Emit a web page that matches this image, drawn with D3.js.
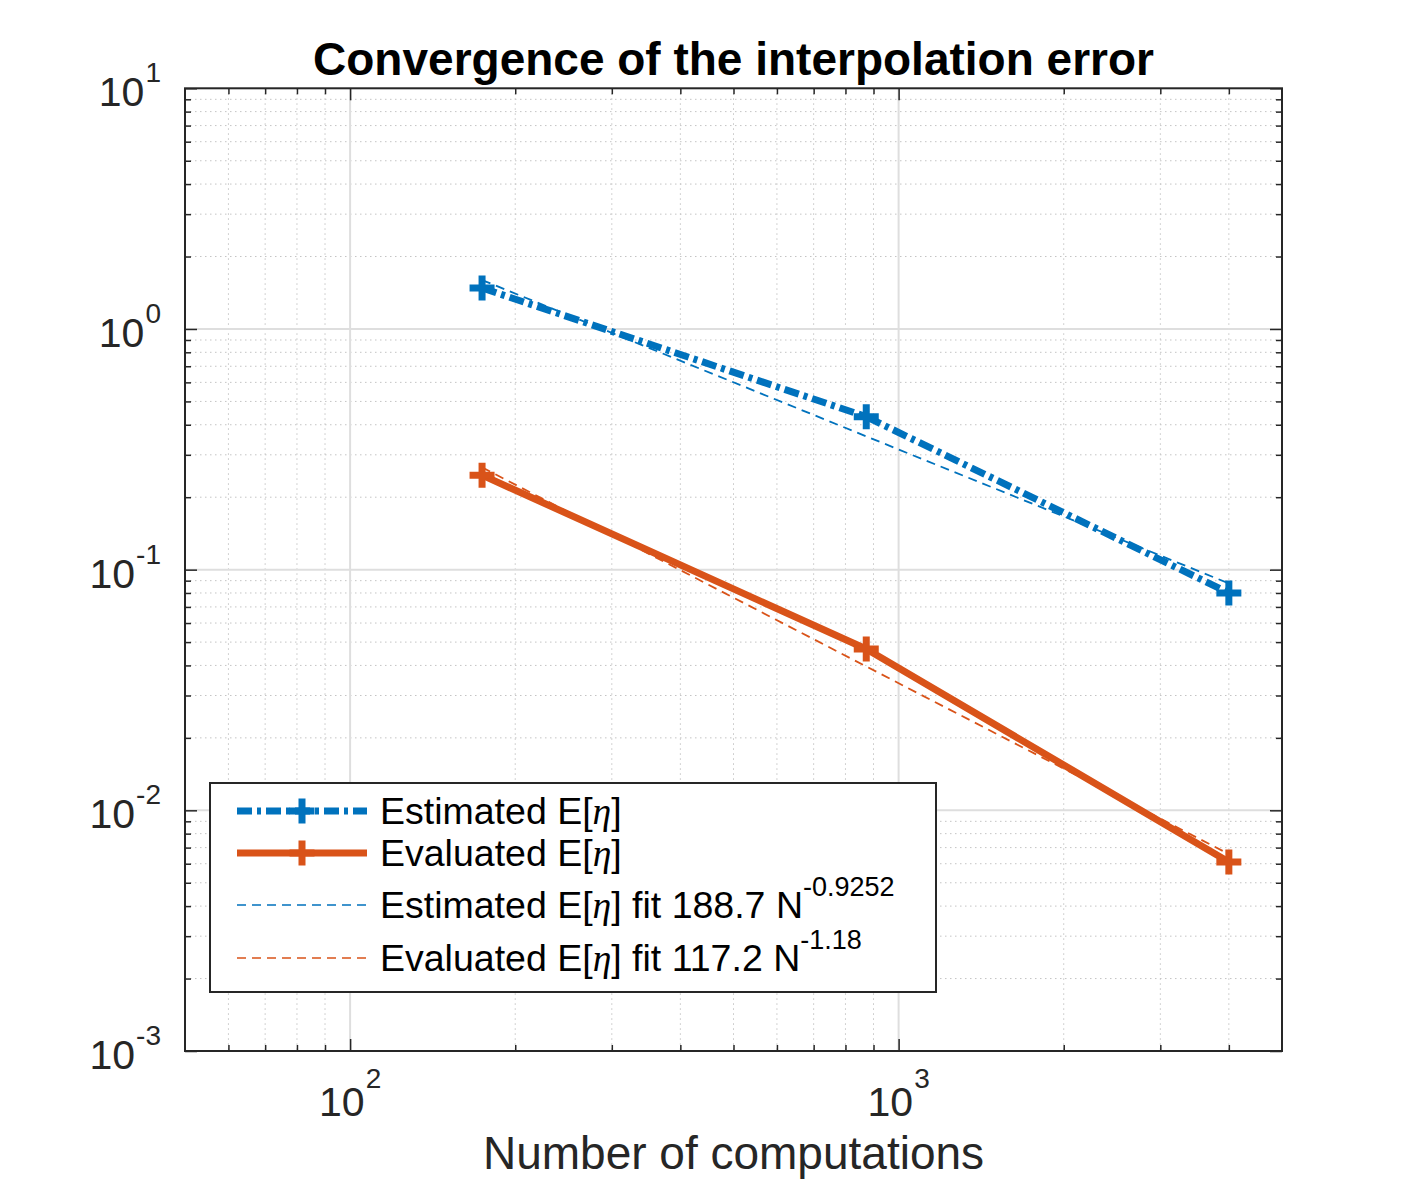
<!DOCTYPE html>
<html><head><meta charset="utf-8">
<script src="https://cdn.jsdelivr.net/npm/d3@7"></script>
<style>body{margin:0;background:#fff}</style>
</head><body>
<svg id="c" width="1417" height="1181"></svg>
<script>
// ---- data ----
const xValues = [174, 873, 4000];
const estimatedValues = [1.48, 0.432, 0.0800];
const evaluatedValues = [0.247, 0.0468, 0.00610];
const estimatedFitValues = [1.597, 0.358, 0.0877];
const evaluatedFitValues = [0.266, 0.0396, 0.00658];
const xTickExponents = [2, 3];
const yTickExponents = [1, 0, -1, -2, -3];
const legendLabels = ["Estimated E[", "Evaluated E[", "Estimated E[", "Evaluated E["];
const fitCoefficients = ["188.7", "117.2"];
const fitExponents = ["-0.9252", "-1.18"];
const titleText = "Convergence of the interpolation error";
const xLabelText = "Number of computations";

// ---- layout ----
const L = 185, R = 1282, T = 88.3, B = 1051;
const BLUE = "#0072BD", ORANGE = "#D95319", AX = "#262626";
const svg = d3.select("#c");
const FONT = "'Liberation Sans', Arial, Helvetica, sans-serif";

const x = d3.scaleLog().domain([50, 5000]).range([L, R]);
const y = d3.scaleLog().domain([1e-3, 10]).range([B, T]);

const xMajor = xTickExponents.map(e => Math.pow(10, e));
const yMajor = yTickExponents.map(e => Math.pow(10, e));
const xMinor = [], yMinor = [];
[1, 2, 3].forEach(e => { for (let k = 2; k <= 9; k++) { const v = k * Math.pow(10, e); if (v > 50 && v < 5000) xMinor.push(v); } });
[-3, -2, -1, 0].forEach(e => { for (let k = 2; k <= 9; k++) yMinor.push(k * Math.pow(10, e)); });

// ---- grid ----
const g = svg.append("g");
g.selectAll(".mgx").data(xMinor).enter().append("line")
  .attr("x1", d => x(d)).attr("x2", d => x(d)).attr("y1", T).attr("y2", B)
  .attr("stroke", "#c4c4c4").attr("stroke-width", 1).attr("stroke-dasharray", "1.5,3.5");
g.selectAll(".mgy").data(yMinor).enter().append("line")
  .attr("y1", d => y(d)).attr("y2", d => y(d)).attr("x1", L).attr("x2", R)
  .attr("stroke", "#c4c4c4").attr("stroke-width", 1).attr("stroke-dasharray", "1.5,3.5");
g.selectAll(".gx").data(xMajor).enter().append("line")
  .attr("x1", d => x(d)).attr("x2", d => x(d)).attr("y1", T).attr("y2", B)
  .attr("stroke", "#dedede").attr("stroke-width", 2);
g.selectAll(".gy").data(yMajor.filter(v => v < 10 && v > 1e-3)).enter().append("line")
  .attr("y1", d => y(d)).attr("y2", d => y(d)).attr("x1", L).attr("x2", R)
  .attr("stroke", "#dedede").attr("stroke-width", 2);

// ---- axes ticks (inward, all four sides) ----
function tickAxis(axisFn, scale, vals, size, transform) {
  const a = svg.append("g").attr("transform", transform)
    .call(axisFn(scale).tickValues(vals).tickSize(size).tickFormat(""));
  a.select(".domain").remove();
  a.selectAll("line").attr("stroke", AX).attr("stroke-width", 1.5);
}
tickAxis(d3.axisBottom, x, xMajor, -12, `translate(0,${B})`);
tickAxis(d3.axisBottom, x, xMinor, -6, `translate(0,${B})`);
tickAxis(d3.axisTop, x, xMajor, -12, `translate(0,${T})`);
tickAxis(d3.axisTop, x, xMinor, -6, `translate(0,${T})`);
tickAxis(d3.axisLeft, y, yMajor, -12, `translate(${L},0)`);
tickAxis(d3.axisLeft, y, yMinor, -6, `translate(${L},0)`);
tickAxis(d3.axisRight, y, yMajor, -12, `translate(${R},0)`);
tickAxis(d3.axisRight, y, yMinor, -6, `translate(${R},0)`);

svg.append("rect").attr("x", L).attr("y", T).attr("width", R - L).attr("height", B - T)
  .attr("fill", "none").attr("stroke", AX).attr("stroke-width", 2);

// ---- tick labels ----
xTickExponents.forEach(e => {
  const t = svg.append("text").attr("x", x(Math.pow(10, e))).attr("y", B + 65)
    .attr("text-anchor", "middle").attr("font-family", FONT).attr("font-size", 41).attr("fill", AX);
  t.append("tspan").text("10");
  t.append("tspan").attr("dy", -28).attr("dx", 1).attr("font-size", 28).text(e);
});
yTickExponents.forEach(e => {
  const t = svg.append("text").attr("x", 161).attr("y", y(Math.pow(10, e)) + 18)
    .attr("text-anchor", "end").attr("font-family", FONT).attr("font-size", 41).attr("fill", AX);
  t.append("tspan").text("10");
  t.append("tspan").attr("dy", -24).attr("dx", 1).attr("font-size", 28).text(e);
});

// ---- title & label ----
svg.append("text").attr("x", (L + R) / 2).attr("y", 75).attr("text-anchor", "middle")
  .attr("font-family", FONT).attr("font-weight", "bold").attr("font-size", 46).attr("fill", "#000")
  .text(titleText);
svg.append("text").attr("x", (L + R) / 2).attr("y", 1169).attr("text-anchor", "middle")
  .attr("font-family", FONT).attr("font-size", 46).attr("fill", AX).text(xLabelText);

// ---- series ----
const line = d3.line().x(d => x(d[0])).y(d => y(d[1]));
const estPts = xValues.map((v, i) => [v, estimatedValues[i]]);
const evaPts = xValues.map((v, i) => [v, evaluatedValues[i]]);
const estFit = xValues.map((v, i) => [v, estimatedFitValues[i]]);
const evaFit = xValues.map((v, i) => [v, evaluatedFitValues[i]]);

const DASHDOT = "15,5,4,5";
svg.append("path").attr("d", line(estPts)).attr("fill", "none").attr("stroke", BLUE)
  .attr("stroke-width", 7).attr("stroke-dasharray", DASHDOT);
svg.append("path").attr("d", line(evaPts)).attr("fill", "none").attr("stroke", ORANGE)
  .attr("stroke-width", 7).attr("stroke-linejoin", "round");

function plus(sel, pts, color) {
  sel.selectAll(null).data(pts).enter().append("path")
    .attr("d", d => `M${x(d[0]) - 12.5},${y(d[1])}H${x(d[0]) + 12.5}M${x(d[0])},${y(d[1]) - 12.5}V${y(d[1]) + 12.5}`)
    .attr("stroke", color).attr("stroke-width", 7).attr("fill", "none");
}
plus(svg, estPts, BLUE);
plus(svg, evaPts, ORANGE);

svg.append("path").attr("d", line(estFit)).attr("fill", "none").attr("stroke", BLUE)
  .attr("stroke-width", 1.8).attr("stroke-dasharray", "9,6");
svg.append("path").attr("d", line(evaFit)).attr("fill", "none").attr("stroke", ORANGE)
  .attr("stroke-width", 1.8).attr("stroke-dasharray", "9,6");

// ---- legend ----
const lg = svg.append("g");
lg.append("rect").attr("x", 210).attr("y", 783).attr("width", 726).attr("height", 209)
  .attr("fill", "#fff").attr("stroke", AX).attr("stroke-width", 2);
const rowsY = [811, 853, 905, 958];
const styles = [
  { c: BLUE, w: 7, dash: DASHDOT, marker: true },
  { c: ORANGE, w: 7, dash: null, marker: true },
  { c: BLUE, w: 1.6, dash: "9,6", marker: false },
  { c: ORANGE, w: 1.6, dash: "9,6", marker: false }
];
styles.forEach((s, i) => {
  const yy = rowsY[i];
  const p = lg.append("line").attr("x1", 237).attr("x2", 367).attr("y1", yy).attr("y2", yy)
    .attr("stroke", s.c).attr("stroke-width", s.w);
  if (s.dash) p.attr("stroke-dasharray", s.dash);
  if (s.marker) {
    lg.append("path").attr("d", `M289.5,${yy}H314.5M302,${yy - 12.5}V${yy + 12.5}`)
      .attr("stroke", s.c).attr("stroke-width", 7);
  }
  const t = lg.append("text").attr("x", 380).attr("y", yy + 13)
    .attr("font-family", FONT).attr("font-size", 37.5).attr("fill", "#000");
  t.append("tspan").text(legendLabels[i]);
  t.append("tspan").attr("font-family", "'Liberation Serif', 'DejaVu Serif', serif")
    .attr("font-style", "italic").text("η");
  t.append("tspan").text("]");
  if (i >= 2) {
    t.append("tspan").text(" fit " + fitCoefficients[i - 2] + " N");
    t.append("tspan").attr("dy", -22).attr("font-size", 27).text(fitExponents[i - 2]);
  }
});
</script>
</body></html>
